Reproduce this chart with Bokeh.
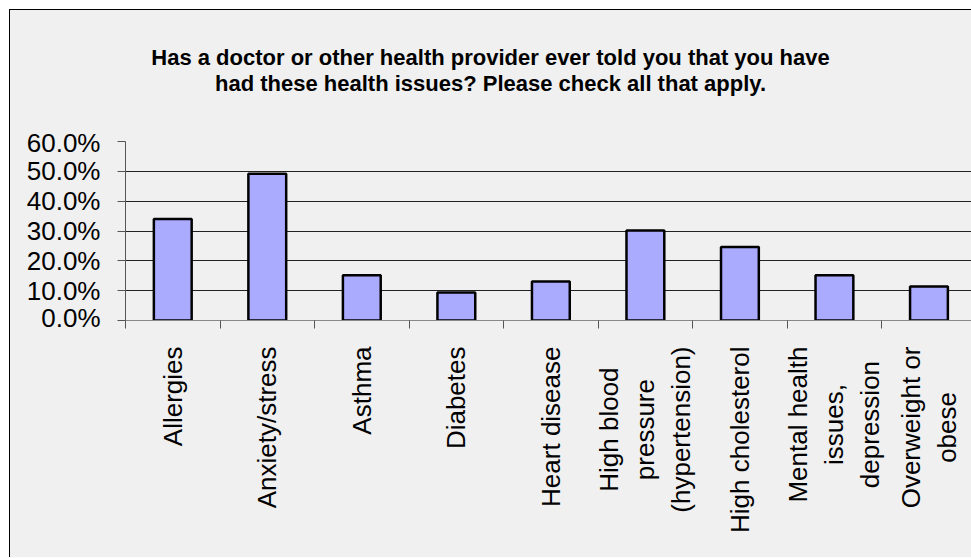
from bokeh.plotting import figure
from bokeh.models import (Range1d, FixedTicker, Label, Spacer, ColumnDataSource)
from bokeh.layouts import column, row
from bokeh.embed import file_html
from bokeh.resources import INLINE
from math import pi

# ---- data ----
categories = [
    "Allergies",
    "Anxiety/stress",
    "Asthma",
    "Diabetes",
    "Heart disease",
    "High blood\npressure\n(hypertension)",
    "High cholesterol",
    "Mental health\nissues,\ndepression",
    "Overweight or\nobese",
]
values = [0.340, 0.492, 0.152, 0.094, 0.131, 0.302, 0.246, 0.152, 0.114]
ytick_values = [0.0, 0.1, 0.2, 0.3, 0.4, 0.5, 0.6]
ytick_labels = ["0.0%", "10.0%", "20.0%", "30.0%", "40.0%", "50.0%", "60.0%"]
title_line1 = "Has a doctor or other health provider ever told you that you have"
title_line2 = "had these health issues? Please check all that apply."

FONT = "Liberation Sans"
BG = "#f0f0f0"
W = 961

n = len(categories)
centers = [i + 0.5 for i in range(n)]
boundaries = [float(i) for i in range(n + 1)]

xr = Range1d(0, 8.95)


def strip(height):
    f = figure(width=W, height=height, x_range=xr, y_range=Range1d(0, 1),
               x_axis_type=None, y_axis_type=None,
               output_backend="svg", toolbar_location=None,
               min_border_left=115, min_border_right=0,
               min_border_top=0, min_border_bottom=0)
    f.background_fill_color = BG
    f.border_fill_color = BG
    f.outline_line_color = None
    return f


# ---- title strip ----
TITLE_H = 117
pt = strip(TITLE_H)
pt.add_layout(Label(
    x=365, y=TITLE_H - 60, x_units="screen", y_units="screen",
    text=title_line1 + "\n" + title_line2,
    anchor="center", text_align="center",
    text_font=FONT, text_font_size="22px", text_font_style="bold",
    text_color="black", text_line_height=1.05,
))

# ---- main chart ----
src = ColumnDataSource(data=dict(x=centers, top=values))
p = figure(
    width=W, height=205,
    x_range=xr, y_range=Range1d(0, 0.6),
    output_backend="svg", toolbar_location=None,
    min_border_left=115, min_border_right=0, min_border_top=14, min_border_bottom=12,
)
p.background_fill_color = BG
p.border_fill_color = BG
p.outline_line_color = None

p.vbar(x="x", top="top", bottom=0, width=0.4, source=src,
       fill_color="#aaaaff", line_color="black", line_width=2.5)

p.yaxis.ticker = FixedTicker(ticks=ytick_values)
p.yaxis.major_label_overrides = dict(zip(ytick_values, ytick_labels))
p.yaxis.major_label_text_font = FONT
p.yaxis.major_label_text_font_size = "26px"
p.yaxis.major_label_text_color = "black"
p.yaxis.major_tick_out = 8
p.yaxis.major_tick_in = 0
p.yaxis.minor_tick_out = 0
p.yaxis.minor_tick_in = 0
p.yaxis.major_label_standoff = 17
p.yaxis.axis_line_color = "#555555"
p.yaxis.major_tick_line_color = "#555555"

p.xaxis.ticker = FixedTicker(ticks=[], minor_ticks=boundaries)
p.xaxis.major_tick_out = 0
p.xaxis.major_tick_in = 0
p.xaxis.major_label_standoff = 0
p.xaxis.minor_tick_out = 8
p.xaxis.minor_tick_in = 0
p.xaxis.minor_tick_line_color = "#555555"
p.xaxis.axis_line_color = "#888888"

p.xgrid.visible = False
p.ygrid.ticker = FixedTicker(ticks=ytick_values)
p.ygrid.grid_line_color = "#222222"
p.ygrid.grid_line_width = 1

# ---- category label strip ----
LAB_H = 225
pl = strip(LAB_H)
for xc, cat in zip(centers, categories):
    pl.add_layout(Label(
        x=xc, y=LAB_H - 14, y_units="screen", text=cat, angle=pi / 2,
        anchor="center_right", text_align="center",
        text_font=FONT, text_font_size="26px", text_color="black",
        text_line_height=1.2,
    ))

box = column(pt, p, pl, spacing=0)
box.styles = {"border-left": "1px solid #000", "border-top": "1px solid #000",
              "background-color": BG}
layout = column(Spacer(height=9, width=971), row(Spacer(width=9, height=549), box))

open("out.html", "w").write(file_html(layout, INLINE))
